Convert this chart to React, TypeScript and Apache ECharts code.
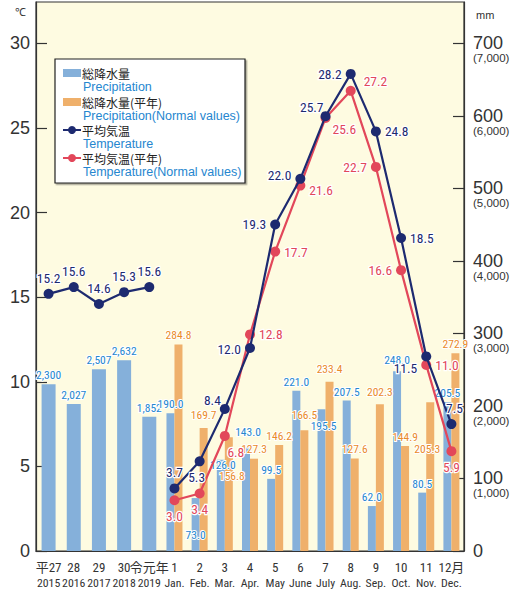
import React, { useEffect, useRef } from "react";
import * as echarts from "echarts";

const categoriesTop = ["平27", "28", "29", "30", "令元年", "1", "2", "3", "4", "5", "6", "7", "8", "9", "10", "11", "12月"];
const categoriesBottom = ["2015", "2016", "2017", "2018", "2019", "Jan.", "Feb.", "Mar.", "Apr.", "May", "June", "July", "Aug.", "Sep.", "Oct.", "Nov.", "Dec."];

const annualPrecip = [2300, 2027, 2507, 2632, 1852];
const monthlyPrecip = [190.0, 73.0, 126.0, 143.0, 99.5, 221.0, 195.5, 207.5, 62.0, 248.0, 80.5, 205.5];
const monthlyPrecipNormal = [284.8, 169.7, 156.8, 127.3, 146.2, 166.5, 233.4, 127.6, 202.3, 144.9, 205.3, 272.9];
const annualTemp = [15.2, 15.6, 14.6, 15.3, 15.6];
const monthlyTemp = [3.7, 5.3, 8.4, 12.0, 19.3, 22.0, 25.7, 28.2, 24.8, 18.5, 11.5, 7.5];
const monthlyTempNormal = [3.0, 3.4, 6.8, 12.8, 17.7, 21.6, 25.6, 27.2, 22.7, 16.6, 11.0, 5.9];

const leftTicks = [0, 5, 10, 15, 20, 25, 30];
const rightTicks = [0, 100, 200, 300, 400, 500, 600, 700];

const BLUE = "#85b0da";
const ORANGE = "#efb06b";
const NAVY = "#1d2a70";
const RED = "#e2475a";
const BLUE_TXT = "#2586cf";
const ORANGE_TXT = "#ea8a2a";
const CREAM = "#fefbe1";
const FONT_C = "'Roboto Condensed', 'Liberation Sans', sans-serif";
const FONT = "'Liberation Sans', Arial, sans-serif";
const FONT_JP = "'Noto Sans CJK JP', sans-serif";

const comma = (n: number) => String(n).replace(/\B(?=(\d{3})+(?!\d))/g, ",");

type LP = [string, number, number] | null;
const navyMonthLP: LP[] = [
  ["top", 0, 0], ["bottom", -3, 0], ["left", 5, -9], ["left", 0, 1], ["left", 0, 0], ["left", 0, -4],
  ["left", 7, -9], ["left", 0, 0], ["right", 0, 0], ["right", 0, 0], ["left", 0, 12], ["top", 3, 0],
];
const redMonthLP: LP[] = [
  ["bottom", 0, 0], ["bottom", 0, 0], ["bottom", 11, 0], ["right", 0, 0], ["right", 0, 0], ["right", 0, 4],
  ["right", -2, 11], ["right", 4, -10], ["left", 0, 0], ["left", 0, 0], ["right", 0, 0], ["bottom", 0, 0],
];
const blueMonthLP: LP[] = [
  null, ["insideBottom", 0, -7], ["insideTop", 2, -4], ["top", 2, -6], null, null,
  ["insideTop", 2, 8], null, null, ["top", 0, -2], null, null,
];
const orangeMonthLP: LP[] = [
  null, ["top", 0, -4], ["insideTop", 3, 30], ["top", 0, -1], null, ["top", 0, -6],
  ["top", 0, -4], null, ["top", 0, -3], null, ["insideTop", -3, 38], null,
];

function buildItems(values: number[], lp: LP[] | null, pad: number) {
  const out: any[] = [];
  for (let i = 0; i < pad; i++) out.push("-");
  values.forEach((v, i) => {
    const p = lp ? lp[i] : null;
    if (p) out.push({ value: v, label: { position: p[0], offset: [p[1], p[2]] } });
    else out.push(v);
  });
  return out;
}

function padEnd(values: number[], total: number) {
  const out: any[] = [...values];
  while (out.length < total) out.push("-");
  return out;
}

export default function App() {
  const ref = useRef<HTMLDivElement>(null);
  useEffect(() => {
    if (!ref.current) return;
    const chart = echarts.init(ref.current, null, { renderer: "svg" });
    const n = categoriesTop.length;
    const leftMax = 32.45;
    const rightMax = (leftMax * 700) / 30;
    const xLabels = categoriesTop.map((c, i) => `${c}\n${categoriesBottom[i]}`);

    const lineLabel = (color: string) => ({
      show: true,
      color,
      fontFamily: FONT_C,
      fontWeight: "normal",
      fontSize: 13.5,
      textBorderColor: "#fff",
      textBorderWidth: 2.5,
      distance: 4,
      formatter: (p: any) => Number(p.value).toFixed(1),
    });
    const barLabel = (color: string, fmt: (v: number) => string) => ({
      show: true,
      position: "top",
      color,
      fontFamily: FONT_C,
      fontWeight: "normal",
      fontSize: 11.5,
      textBorderColor: "#fff",
      textBorderWidth: 2,
      distance: 3,
      formatter: (p: any) => fmt(Number(p.value)),
    });

    const legendX = 63;
    const g: any[] = [
      { type: "text", left: 15, top: 6, style: { text: "℃", fontSize: 11, fill: "#333", fontFamily: FONT } },
      { type: "text", left: 476, top: 9, style: { text: "mm", fontSize: 11, fill: "#333", fontFamily: FONT } },
      {
        type: "rect",
        shape: { x: 55, y: 59, width: 190, height: 124 },
        style: { fill: "#fff", stroke: "#222", lineWidth: 1.2, shadowColor: "rgba(0,0,0,0.35)", shadowOffsetX: 1.5, shadowOffsetY: 1.5, shadowBlur: 1 },
        z: 100,
      },
      { type: "rect", shape: { x: legendX, y: 69, width: 18, height: 8 }, style: { fill: BLUE }, z: 101 },
      { type: "rect", shape: { x: legendX, y: 98, width: 18, height: 8 }, style: { fill: ORANGE }, z: 101 },
      { type: "line", shape: { x1: legendX, y1: 130, x2: legendX + 18, y2: 130 }, style: { stroke: NAVY, lineWidth: 2 }, z: 101 },
      { type: "circle", shape: { cx: legendX + 9, cy: 130, r: 4 }, style: { fill: NAVY }, z: 102 },
      { type: "line", shape: { x1: legendX, y1: 158, x2: legendX + 18, y2: 158 }, style: { stroke: RED, lineWidth: 2 }, z: 101 },
      { type: "circle", shape: { cx: legendX + 9, cy: 158, r: 4 }, style: { fill: RED }, z: 102 },
    ];
    const legendTexts: [string, number, boolean][] = [
      ["総降水量", 73, true],
      ["Precipitation", 87, false],
      ["総降水量(平年)", 102, true],
      ["Precipitation(Normal values)", 116, false],
      ["平均気温", 130, true],
      ["Temperature", 144, false],
      ["平均気温(平年)", 158, true],
      ["Temperature(Normal values)", 172, false],
    ];
    legendTexts.forEach(([t, y, jp]) => {
      g.push({
        type: "text",
        x: jp ? 82 : 83,
        y,
        z: 102,
        style: {
          text: t,
          fontSize: jp ? 12 : 12.5,
          fontFamily: jp ? FONT_JP : FONT,
          fill: jp ? "#222" : BLUE_TXT,
          verticalAlign: "middle",
          align: "left",
        },
      });
    });

    chart.setOption({
      animation: false,
      backgroundColor: "#fff",
      grid: {
        left: 36,
        right: 60,
        top: 2,
        bottom: 41,
        show: true,
        backgroundColor: CREAM,
        borderColor: "#333",
        borderWidth: 1.2,
        containLabel: false,
      },
      xAxis: [
        {
          type: "category",
          data: xLabels,
          axisLine: { show: true, lineStyle: { color: "#333", width: 1.2 } },
          axisTick: { show: false },
          axisLabel: {
            interval: 0,
            color: "#333",
            fontFamily: FONT_C,
            fontSize: 12,
            lineHeight: 16,
            margin: 8,
            formatter: (v: string) => {
              const [a, b] = v.split("\n");
              return `{t|${a}}\n{b|${b}}`;
            },
            rich: {
              t: { fontFamily: "'Roboto Condensed', 'Noto Sans CJK JP', sans-serif", fontSize: 13, lineHeight: 16, color: "#333" },
              b: { fontFamily: FONT_C, fontSize: 11.8, lineHeight: 16, color: "#333" },
            },
          },
          splitLine: { show: false },
        },
        {
          type: "category",
          data: xLabels,
          show: false,
        },
      ],
      yAxis: [
        {
          type: "value",
          min: 0,
          max: leftMax,
          interval: 5,
          position: "left",
          axisLine: { show: true, lineStyle: { color: "#333", width: 1.2 } },
          axisTick: { show: true, inside: true, length: 11, lineStyle: { color: "#333", width: 1.2 } },
          axisLabel: {
            showMaxLabel: false,
            color: "#333",
            fontFamily: FONT,
            fontSize: 18,
            margin: 6,
            formatter: (v: number) => (leftTicks.includes(v) ? String(v) : ""),
          },
          splitLine: { show: false },
        },
        {
          type: "value",
          min: 0,
          max: rightMax,
          interval: 100,
          position: "right",
          axisLine: { show: true, lineStyle: { color: "#333", width: 1.2 } },
          axisTick: { show: true, inside: true, length: 11, lineStyle: { color: "#333", width: 1.2 } },
          axisLabel: {
            showMaxLabel: false,
            margin: 9,
            color: "#333",
            formatter: (v: number) => {
              if (!rightTicks.includes(v)) return "";
              if (v === 0) return "{a|0}";
              return `{e| }\n{a|${v}}\n{b|(${comma(v * 10)})}`;
            },
            rich: {
              e: { fontSize: 10, lineHeight: 12 },
              a: { fontFamily: FONT, fontSize: 18, lineHeight: 18, color: "#333" },
              b: { fontFamily: FONT, fontSize: 11.5, lineHeight: 12, color: "#333" },
            },
          },
          splitLine: { show: false },
        },
        {
          type: "value",
          min: 0,
          max: rightMax * 10,
          show: false,
          splitLine: { show: false },
        },
      ],
      series: [
        {
          name: "総降水量(年)",
          type: "bar",
          xAxisIndex: 1,
          yAxisIndex: 2,
          barWidth: 14,
          itemStyle: { color: BLUE },
          data: padEnd(annualPrecip, n),
          label: barLabel(BLUE_TXT, (v) => comma(v)),
          z: 2,
        },
        {
          name: "総降水量",
          type: "bar",
          xAxisIndex: 0,
          yAxisIndex: 1,
          barWidth: 8,
          barGap: "0%",
          itemStyle: { color: BLUE },
          data: buildItems(monthlyPrecip, blueMonthLP, 5),
          label: barLabel(BLUE_TXT, (v) => v.toFixed(1)),
          z: 2,
        },
        {
          name: "総降水量(平年)",
          type: "bar",
          xAxisIndex: 0,
          yAxisIndex: 1,
          barWidth: 8,
          barGap: "0%",
          itemStyle: { color: ORANGE },
          data: buildItems(monthlyPrecipNormal, orangeMonthLP, 5),
          label: barLabel(ORANGE_TXT, (v) => v.toFixed(1)),
          z: 2,
        },
        {
          name: "平均気温(年)",
          type: "line",
          xAxisIndex: 0,
          yAxisIndex: 0,
          symbol: "circle",
          symbolSize: 10,
          lineStyle: { color: NAVY, width: 2.2 },
          itemStyle: { color: NAVY },
          data: padEnd(annualTemp, n),
          label: { ...lineLabel(NAVY), position: "top" },
          z: 5,
        },
        {
          name: "平均気温(平年)",
          type: "line",
          xAxisIndex: 0,
          yAxisIndex: 0,
          symbol: "circle",
          symbolSize: 10,
          lineStyle: { color: RED, width: 2.2 },
          itemStyle: { color: RED },
          data: buildItems(monthlyTempNormal, redMonthLP, 5),
          label: lineLabel(RED),
          z: 5,
        },
        {
          name: "平均気温",
          type: "line",
          xAxisIndex: 0,
          yAxisIndex: 0,
          symbol: "circle",
          symbolSize: 10,
          lineStyle: { color: NAVY, width: 2.2 },
          itemStyle: { color: NAVY },
          data: buildItems(monthlyTemp, navyMonthLP, 5),
          label: lineLabel(NAVY),
          z: 6,
        },
      ],
      graphic: g,
    });
    return () => chart.dispose();
  }, []);
  return <div ref={ref} style={{ width: 524, height: 592, position: "absolute", left: 0, top: 0 }} />;
}
